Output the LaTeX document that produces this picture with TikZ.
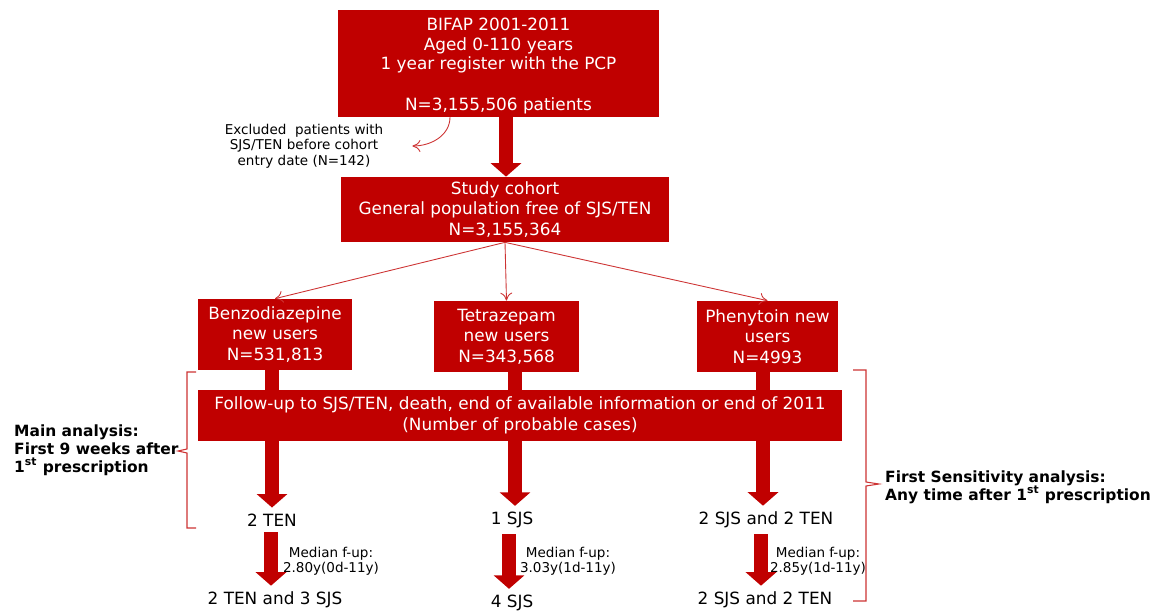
\documentclass[tikz,border=0pt]{standalone}
\usepackage{fontspec}
\setmainfont{DejaVu Sans}
\usetikzlibrary{arrows.meta}
\definecolor{boxred}{RGB}{192,0,0}
\begin{document}
\begin{tikzpicture}[x=0.02cm, y=-0.02cm,
  every node/.style={font=\fontsize{9.6}{11.6}\selectfont},
  redbox/.style={fill=boxred, text=white, align=center, inner sep=0pt},
  fat/.style={draw=boxred, line width=0.27cm, -{Triangle[width=0.6cm, length=0.27cm]}},
  thinarrow/.style={draw=boxred!80, line width=0.5pt, -{To[length=1.6mm, width=2.4mm]}},
  bracket/.style={draw=boxred!80, line width=0.6pt},
  small/.style={font=\fontsize{7.7}{8.7}\selectfont, align=center},
  side/.style={font=\bfseries\fontsize{8.8}{10.3}\selectfont, align=left}]
          \useasboundingbox (0,0) rectangle (1153,611);
          % boxes
          \node [redbox, minimum width=6.42cm, minimum height=2.14cm] (bifap) at (498.5, 63.5) {};
          \node [text=white, align=center, font=\fontsize{9.6}{11.3}\selectfont] (bifaptext) at (498.5, 66) {BIFAP 2001-2011\\Aged 0-110 years\\1 year register with the PCP\\[12pt]N=3,155,506 patients};
          \node [redbox, minimum width=6.56cm, minimum height=1.3cm] (cohort) at (505, 209.5) {Study cohort\\General population free of SJS/TEN\\N=3,155,364};
          \node [redbox, minimum width=3.08cm, minimum height=1.42cm] (benzo) at (275, 334.5) {Benzodiazepine\\new users\\N=531,813};
          \node [redbox, minimum width=2.9cm, minimum height=1.42cm] (tetra) at (506.5, 336.5) {Tetrazepam\\new users\\N=343,568};
          \node [redbox, minimum width=2.82cm, minimum height=1.42cm] (pheny) at (767.5, 336.5) {Phenytoin new\\users\\N=4993};
          \node [redbox, minimum width=12.88cm, minimum height=1.02cm] (follow) at (520, 415.5) {Follow-up to SJS/TEN, death, end of available information or end of 2011\\(Number of probable cases)};

          % exclusion
          \node [small] (excl) at (304, 146) {Excluded~~patients with\\SJS/TEN before cohort\\entry date (N=142)};
          \coordinate (exclfrom) at (450, 117);
          \draw [thinarrow] (exclfrom) to[out=-90, in=0] ([xshift=0.46cm]excl.east);
          \draw [fat] (bifap.south -| 506, 0) -- (cohort.north -| 506, 0);

          \draw [thinarrow] (cohort.south) -- (benzo.north);
          \draw [thinarrow] (cohort.south) -- (tetra.north);
          \draw [thinarrow] (cohort.south) -- (pheny.north);

          % cases
          \node [] (benzoA) at (272, 520) {2 TEN};
          \node [] (tetraA) at (512, 520) {1 SJS};
          \node [] (phenyA) at (766, 520) {2 SJS and 2 TEN};
          \node [] (benzoB) at (275, 600) {2 TEN and 3 SJS};
          \node [] (tetraB) at (512, 603) {4 SJS};
          \node [] (phenyB) at (765, 600) {2 SJS and 2 TEN};

          \draw [fat, -] (benzo.south -| 272, 0) -- (follow.north -| 272, 0);
          \draw [fat, -] (tetra.south -| 515, 0) -- (follow.north -| 515, 0);
          \draw [fat, -] (pheny.south -| 763, 0) -- (follow.north -| 763, 0);
          \draw [fat] (follow.south -| 272, 0) -- (benzoA.north -| 272, 0);
          \draw [fat] (follow.south -| 515, 0) -- (tetraA.north -| 515, 0);
          \draw [fat] (follow.south -| 763, 0) -- (phenyA.north -| 763, 0);
          \draw [fat] (benzoA.south -| 271, 0) -- (benzoB.north -| 271, 0);
          \draw [fat] (tetraA.south -| 509, 0) -- (tetraB.north -| 509, 0);
          \draw [fat] (phenyA.south -| 761, 0) -- (phenyB.north -| 761, 0);

          \node [small] (benzoM) at (331, 561) {Median f-up:\\2.80y(0d-11y)};
          \node [small] (tetraM) at (568, 561) {Median f-up:\\3.03y(1d-11y)};
          \node [small] (phenyM) at (818, 561) {Median f-up:\\2.85y(1d-11y)};

          % analyses
          \draw [bracket] (196, 372) -- (187, 372) -- (187, 449) -- (178, 451) -- (187, 453) -- (187, 528) -- (196, 528);
          \draw [bracket] (853, 370) -- (866, 370) -- (866, 482) -- (879, 484) -- (866, 486) -- (866, 601) -- (853, 601);
          \node [side, anchor=west] (main) at (8, 450) {Main analysis:\\First 9 weeks after\\1\textsuperscript{st} prescription};
          \node [side, anchor=west] (sens) at (879, 487) {First Sensitivity analysis:\\Any time after 1\textsuperscript{st} prescription};
        \end{tikzpicture}
\end{document}
